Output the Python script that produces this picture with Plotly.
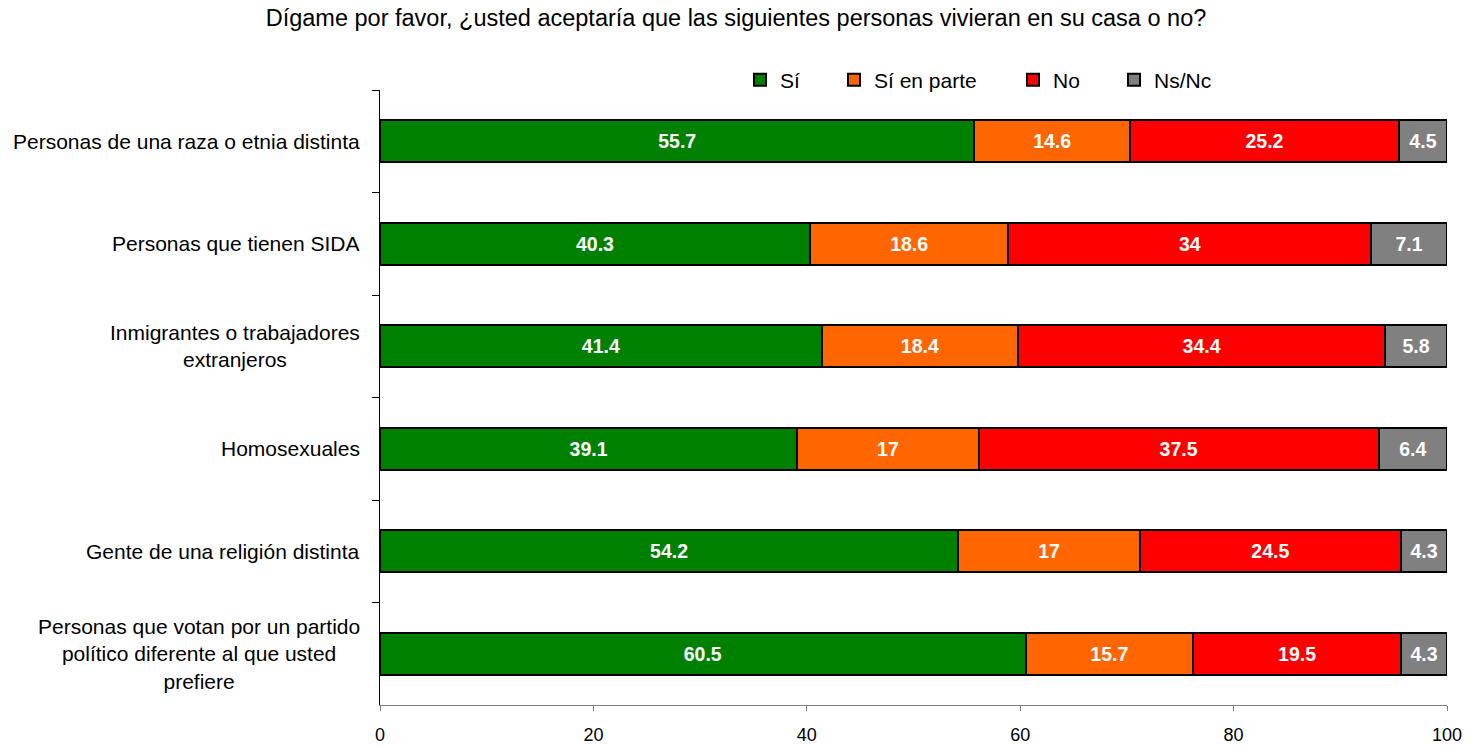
import plotly.graph_objects as go

categories = [
    "Personas de una raza o etnia distinta",
    "Personas que tienen SIDA",
    "Inmigrantes o trabajadores<br>extranjeros",
    "Homosexuales",
    "Gente de una religión distinta",
    "Personas que votan por un partido<br>político diferente al que usted<br>prefiere",
]
si = [55.7, 40.3, 41.4, 39.1, 54.2, 60.5]
si_parte = [14.6, 18.6, 18.4, 17, 17, 15.7]
no = [25.2, 34, 34.4, 37.5, 24.5, 19.5]
nsnc = [4.5, 7.1, 5.8, 6.4, 4.3, 4.3]
x_ticks = [0, 20, 40, 60, 80, 100]

series = [
    ("Sí", si, "#008000"),
    ("Sí en parte", si_parte, "#FF6600"),
    ("No", no, "#FF0000"),
    ("Ns/Nc", nsnc, "#808080"),
]

FONT = "Liberation Sans, Arial, sans-serif"
W, H = 1472, 746
L, R, T, B = 380, 25, 90, 41
PW = W - L - R
PH = H - T - B

# legend text left edges in page px (reference)
legend_text_x = [777, 871, 1050, 1151]
legend_ids = ["legend", "legend2", "legend3", "legend4"]

fig = go.Figure()
for (name, vals, color), lid in zip(series, legend_ids):
    fig.add_trace(go.Bar(
        y=categories, x=vals, name=name, orientation="h",
        marker=dict(color=color, line=dict(color="black", width=2)),
        texttemplate="%{x}", textposition="inside", insidetextanchor="middle",
        textfont=dict(family=FONT, size=19.5, color="white", weight="bold"),
        constraintext="none", legend=lid,
        hoverinfo="x+name",
    ))

for c in categories:
    fig.add_annotation(
        x=0, xref="paper", y=c, yref="y", xanchor="right", xshift=-18,
        text=c, showarrow=False, align="center",
        font=dict(family=FONT, size=21, color="black"),
    )

legend_layouts = {}
for lid, tx in zip(legend_ids, legend_text_x):
    legend_layouts[lid] = dict(
        orientation="h", x=(tx + 3 - 40 - L) / PW, xanchor="left",
        y=1 + 10 / PH, yanchor="middle",
        font=dict(family=FONT, size=21, color="black"),
        bgcolor="rgba(0,0,0,0)",
    )

fig.update_layout(
    barmode="stack",
    bargap=0.59,
    width=W, height=H,
    margin=dict(l=L, r=R, t=T, b=B, autoexpand=False),
    paper_bgcolor="white", plot_bgcolor="white",
    font=dict(family=FONT, size=21, color="black"),
    title=dict(
        text="Dígame por favor, ¿usted aceptaría que las siguientes personas vivieran en su casa o no?",
        x=0.5, xanchor="center", y=1 - 18 / H, yanchor="middle",
        font=dict(family=FONT, size=23.5, color="black"),
    ),
    showlegend=True,
    **legend_layouts,
)

fig.update_xaxes(
    range=[0, 100], tickvals=x_ticks, showgrid=False, zeroline=False,
    showline=True, linecolor="#808080", linewidth=1,
    ticks="outside", ticklen=5, tickcolor="#808080",
    tickfont=dict(family=FONT, size=18, color="black"),
    ticklabelstandoff=8, automargin=False,
)
fig.update_yaxes(
    autorange="reversed", showgrid=False, zeroline=False,
    showline=True, linecolor="black", linewidth=1,
    ticks="outside", ticklen=7, tickcolor="black", tickson="boundaries",
    showticklabels=False, automargin=False,
)

fig.write_html(
    "out.html",
    post_script="document.body.style.margin='0';",
    config={"displayModeBar": False},
)
